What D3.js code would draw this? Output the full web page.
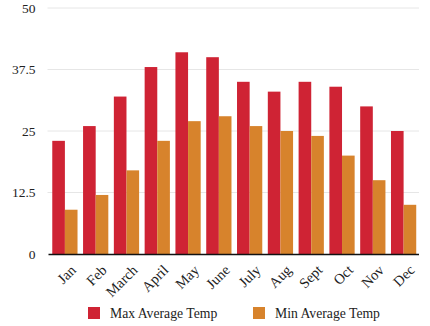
<!DOCTYPE html>
<html>
<head>
<meta charset="utf-8">
<script src="https://cdn.jsdelivr.net/npm/d3@7"></script>
<style>
  body { margin: 0; background: #fff; }
  text { font-family: "Liberation Serif", "Times New Roman", serif; fill: #222; }
</style>
</head>
<body>
<script>
// chart data
const months = ["Jan", "Feb", "March", "April", "May", "June", "July", "Aug", "Sept", "Oct", "Nov", "Dec"];
const maxTemp = [23, 26, 32, 38, 41, 40, 35, 33, 35, 34, 30, 25];
const minTemp = [9, 12, 17, 23, 27, 28, 26, 25, 24, 20, 15, 10];
const seriesNames = ["Max Average Temp", "Min Average Temp"];
const yTicks = [0, 12.5, 25, 37.5, 50];

const colors = ["#cf2334", "#d7832c"];

const svgWidth = 430;
const svgHeight = 326;
const margin = { top: 8, right: 11, bottom: 72, left: 49.5 };
const width = svgWidth - margin.left - margin.right;
const height = svgHeight - margin.top - margin.bottom;

const svg = d3.select("body").append("svg").attr("width", svgWidth).attr("height", svgHeight);
const g = svg.append("g").attr("transform", `translate(${margin.left}, ${margin.top})`);

const data = months.map((m, i) => ({ month: m, values: [maxTemp[i], minTemp[i]] }));

const x0 = d3.scaleBand().domain(months).range([0, width]).paddingInner(0.18).paddingOuter(0.09);
const x1 = d3.scaleBand().domain([0, 1]).range([0, x0.bandwidth()]);
const y = d3.scaleLinear().domain([0, 50]).range([height, 0]);

// gridlines
g.append("g")
  .selectAll("line")
  .data(yTicks.filter((t) => t > 0))
  .enter()
  .append("line")
  .attr("x1", -2)
  .attr("x2", width)
  .attr("y1", (d) => y(d))
  .attr("y2", (d) => y(d))
  .attr("stroke", "#e6e6e6")
  .attr("stroke-width", 1);

// y labels
const yAxis = d3.axisLeft(y).tickValues(yTicks).tickSize(0).tickPadding(14).tickFormat((d) => d);
const yg = g.append("g").call(yAxis);
yg.select(".domain").remove();
yg.selectAll("text").style("font-size", "13.5px").attr("fill", "#222").attr("font-family", "Liberation Serif");

// bars
g.append("g")
  .selectAll("g")
  .data(data)
  .enter()
  .append("g")
  .attr("transform", (d) => `translate(${x0(d.month)}, 0)`)
  .selectAll("rect")
  .data((d) => d.values)
  .enter()
  .append("rect")
  .attr("x", (d, i) => x1(i))
  .attr("y", (d) => y(d))
  .attr("width", x1.bandwidth())
  .attr("height", (d) => height - y(d))
  .attr("fill", (d, i) => colors[i]);

// x axis
const xAxis = d3.axisBottom(x0).tickSize(0).tickPadding(0);
const xg = g.append("g").attr("transform", `translate(0, ${height})`).call(xAxis);
xg.select(".domain").attr("d", `M-1,0.5H${width}`).attr("stroke", "#111").attr("stroke-width", 1.5);
xg.selectAll("text")
  .style("font-size", "14.5px")
  .attr("fill", "#222")
  .attr("font-family", "Liberation Serif")
  .attr("text-anchor", "end")
  .attr("dy", 0)
  .attr("y", 0)
  .attr("transform", "translate(12, 17) rotate(-45)");

// legend
const legend = svg.append("g").attr("transform", "translate(88, 307)");
const items = legend
  .selectAll("g")
  .data(seriesNames)
  .enter()
  .append("g")
  .attr("transform", (d, i) => `translate(${i * 165}, 0)`);
items.append("rect").attr("width", 12).attr("height", 12).attr("fill", (d, i) => colors[i]);
items
  .append("text")
  .attr("x", 22)
  .attr("y", 11)
  .style("font-size", "13.7px")
  .text((d) => d);
</script>
</body>
</html>
